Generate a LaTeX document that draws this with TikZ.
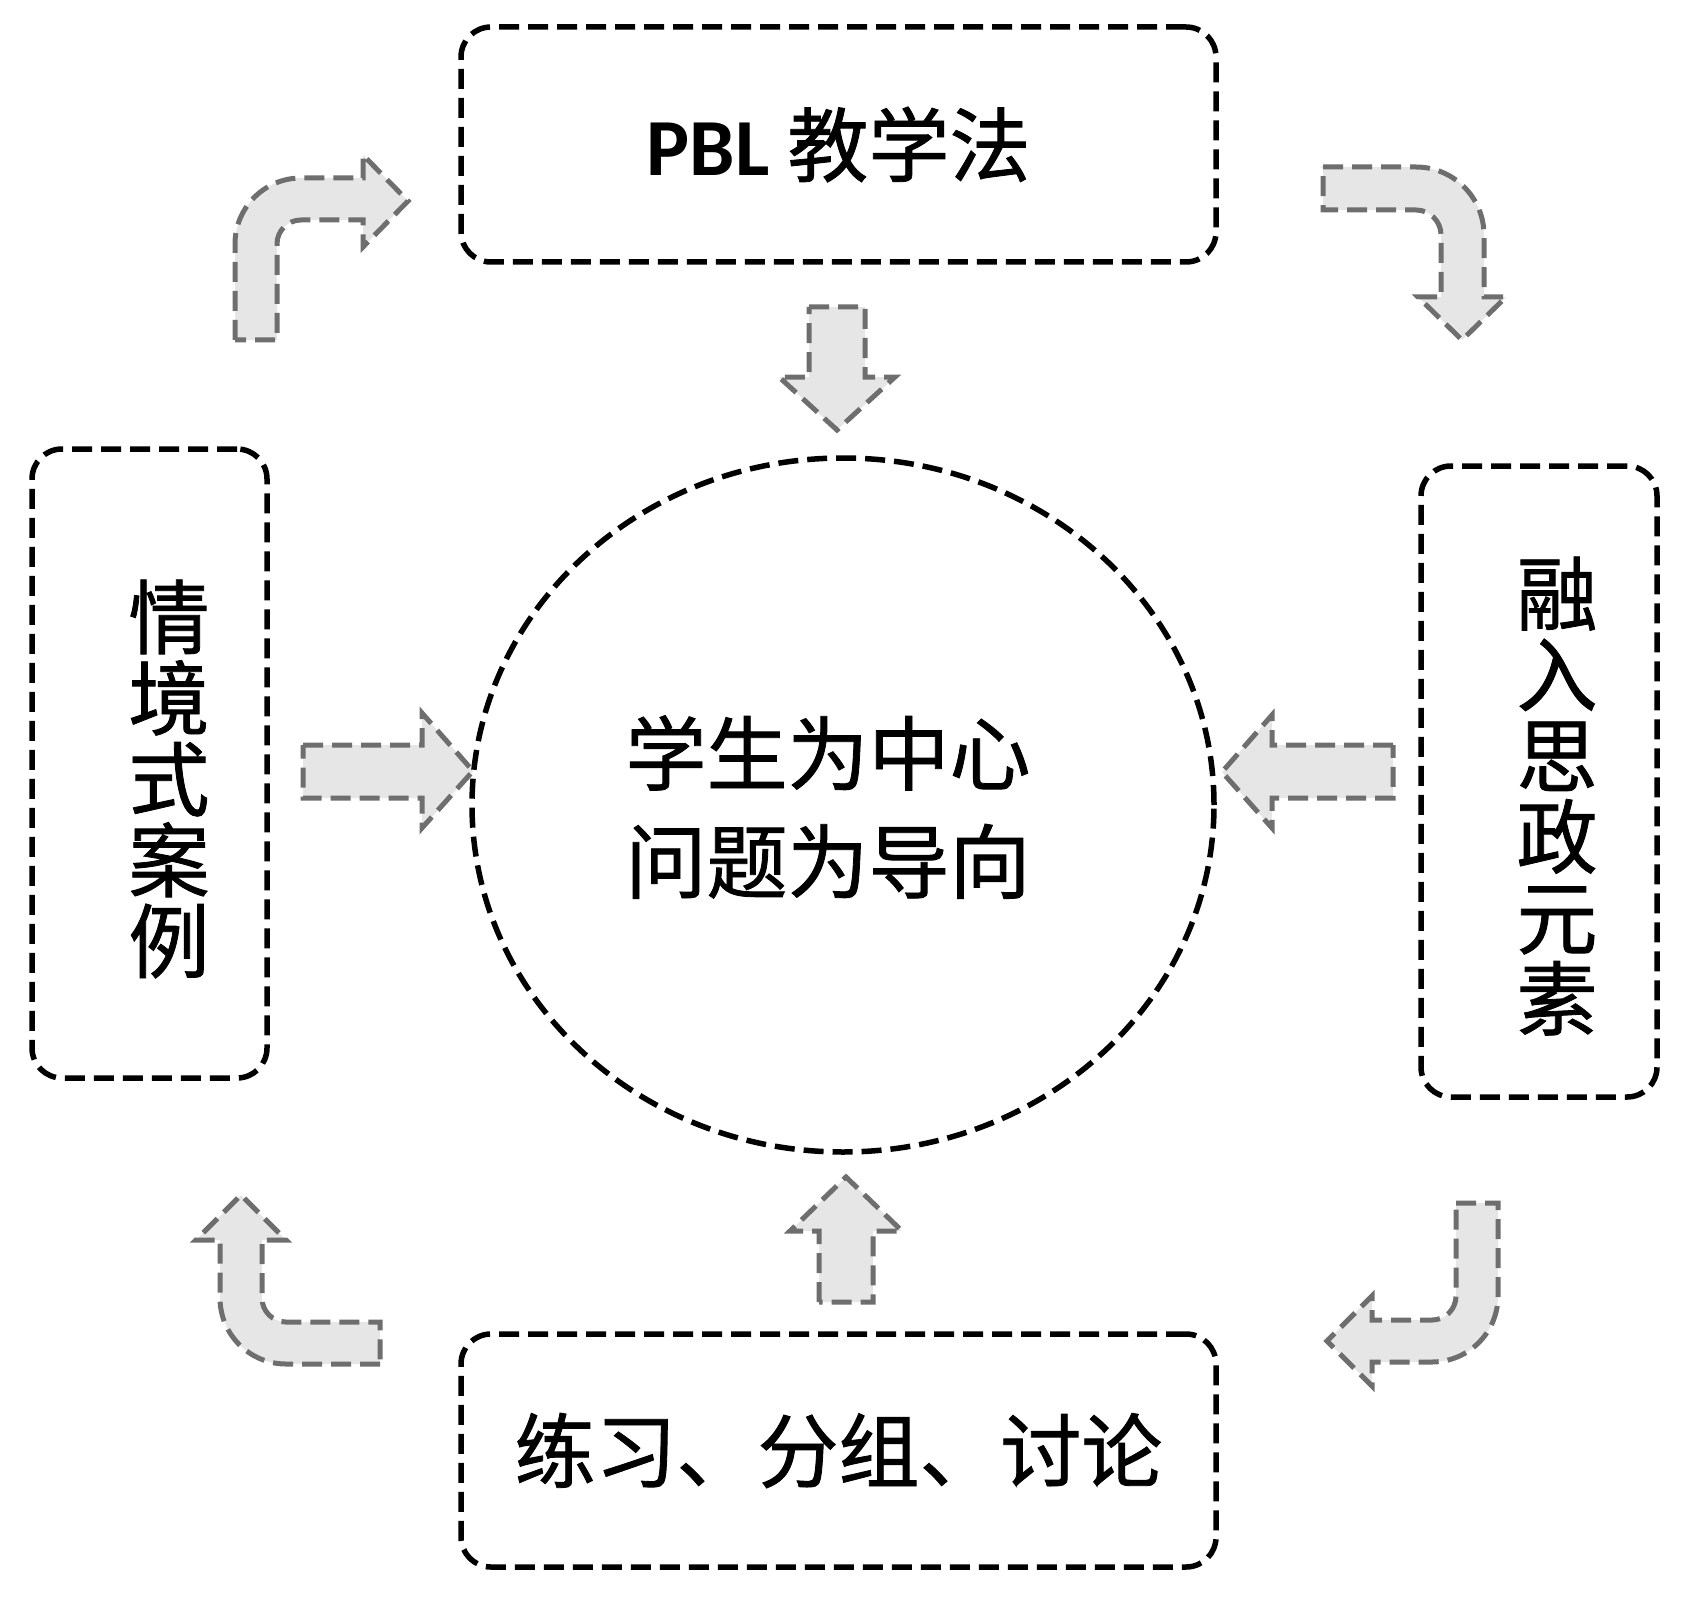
\documentclass[tikz,border=0pt]{standalone}
\usepackage{fontspec}
\usetikzlibrary{shapes.geometric}
\newfontfamily\cjk[FakeBold=1]{Noto Sans CJK SC}
\newfontfamily\pblfont{Carlito}
\definecolor{arrowfill}{HTML}{E6E6E6}
\definecolor{arrowline}{HTML}{6E6E6E}
\tikzset{
  box/.style={draw=black, line width=5.5pt, dash pattern=on 20pt off 9pt,
    rounded corners=30pt, inner sep=0pt, align=center,
    font=\cjk\fontsize{81}{81}\selectfont},
  circ/.style={draw=black, ellipse, line width=5.5pt, dash pattern=on 20pt off 9pt, inner sep=0pt},
  blockarrow/.style={draw=arrowline, fill=arrowfill, line width=5pt,
    dash pattern=on 20pt off 9pt, line join=miter},
  lbl/.style={font=\cjk\fontsize{81}{81}\selectfont, inner sep=0pt, align=center},
}
\begin{document}
\begin{tikzpicture}[x=1pt,y=-1pt]
\useasboundingbox (0,0) rectangle (1691,1602);
% block arrows
\draw[blockarrow] (235,340) -- (235,244) arc[start angle=180, end angle=270, radius=66]
  -- (363,178) -- (363,155) -- (408,201) -- (363,247) -- (363,220) -- (301,220)
  arc[start angle=270, end angle=180, radius=24] -- (277,340) -- cycle;
\draw[blockarrow] (1323,167) -- (1416,167) arc[start angle=270, end angle=360, radius=68]
  -- (1484,297) -- (1506,297) -- (1462,340) -- (1418,297) -- (1441,297) -- (1441,235)
  arc[start angle=0, end angle=-90, radius=25] -- (1323,210) -- cycle;
\draw[blockarrow] (1456,1203) -- (1498,1203) -- (1498,1296) arc[start angle=0, end angle=90, radius=66]
  -- (1372,1362) -- (1372,1386) -- (1327,1341) -- (1372,1296) -- (1372,1320) -- (1432,1320)
  arc[start angle=90, end angle=0, radius=24] -- cycle;
\draw[blockarrow] (380,1364) -- (286,1364) arc[start angle=90, end angle=180, radius=66]
  -- (220,1240) -- (196,1240) -- (241,1195) -- (286,1240) -- (262,1240) -- (262,1298)
  arc[start angle=180, end angle=90, radius=24] -- (380,1322) -- cycle;
% straight arrows
\draw[blockarrow] (809,307) -- (865,307) -- (865,377) -- (895,377) -- (837,430) -- (779,377) -- (809,377) -- cycle;
\draw[blockarrow] (303,745) -- (422,745) -- (422,713) -- (473,771) -- (422,828) -- (422,798) -- (303,798) -- cycle;
\draw[blockarrow] (1393,745) -- (1272,745) -- (1272,715) -- (1222,772) -- (1272,828) -- (1272,798) -- (1393,798) -- cycle;
\draw[blockarrow] (819,1302) -- (819,1231) -- (790,1231) -- (846,1177) -- (902,1231) -- (873,1231) -- (873,1302) -- cycle;
% boxes
\node[box, minimum width=755pt, minimum height=235pt] (pbl) at (838.5,144.5)
  {{\pblfont\bfseries PBL} 教学法};
\node[box, minimum width=755pt, minimum height=233pt] (prac) at (838.5,1450.5)
  {练习、分组、讨论};
\node[box, minimum width=235pt, minimum height=629pt] (case) at (149.5,763.5) {};
\node[box, minimum width=236pt, minimum height=631pt] (ideo) at (1539,781.5) {};
\node[lbl] (casetext) at (169,779) {情\\境\\式\\案\\例};
\node[lbl] (ideotext) at (1557,796) {融\\入\\思\\政\\元\\素};
% centre
\node[circ, minimum width=742pt, minimum height=694pt] (center) at (843,805) {};
\node[lbl, font=\cjk\fontsize{81}{108}\selectfont] (centertext) at (828,807) {学生为中心\\问题为导向};
\end{tikzpicture}
\end{document}
